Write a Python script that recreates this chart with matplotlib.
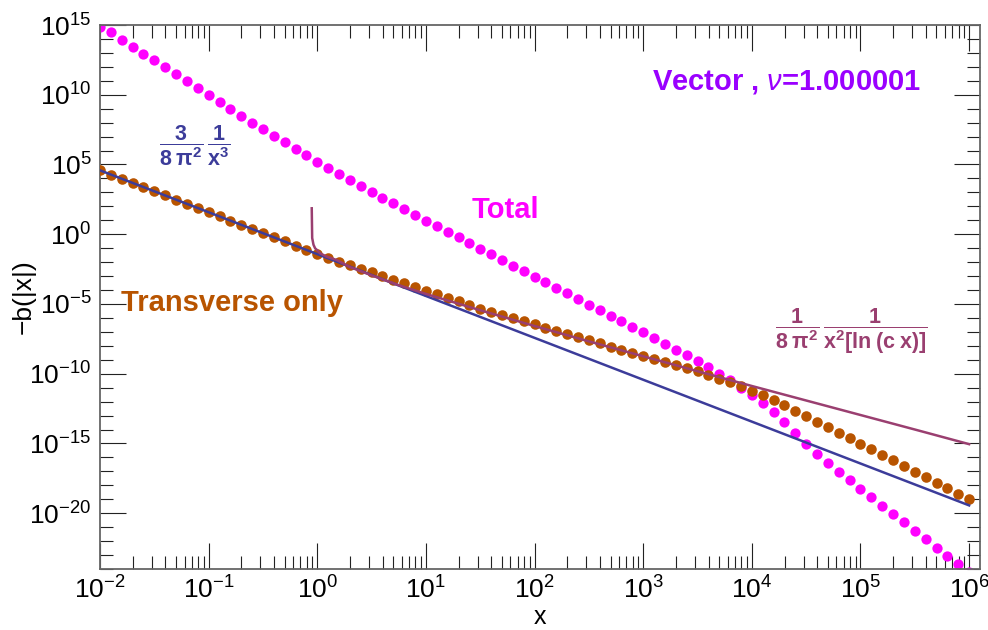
import numpy as np
import matplotlib
matplotlib.use("Agg")
import matplotlib.pyplot as plt
from matplotlib.ticker import FixedLocator, LogLocator, NullFormatter, LogFormatterSciNotation

plt.rcParams['font.family'] = ['Liberation Sans', 'DejaVu Sans']
plt.rcParams['mathtext.fontset'] = 'custom'
plt.rcParams['mathtext.rm'] = 'Liberation Sans'
plt.rcParams['mathtext.bf'] = 'Liberation Sans:bold'
plt.rcParams['mathtext.it'] = 'Liberation Sans:italic'
plt.rcParams['mathtext.sf'] = 'Liberation Sans'
plt.rcParams['mathtext.default'] = 'regular'

# ---- data (log10 values) ----
dot_x_log10 = [-2.0, -1.9, -1.8, -1.7, -1.6, -1.5, -1.4, -1.3, -1.2, -1.1,
               -1.0, -0.9, -0.8, -0.7, -0.6, -0.5, -0.4, -0.3, -0.2, -0.1,
               0.0, 0.1, 0.2, 0.3, 0.4, 0.5, 0.6, 0.7, 0.8, 0.9,
               1.0, 1.1, 1.2, 1.3, 1.4, 1.5, 1.6, 1.7, 1.8, 1.9,
               2.0, 2.1, 2.2, 2.3, 2.4, 2.5, 2.6, 2.7, 2.8, 2.9,
               3.0, 3.1, 3.2, 3.3, 3.4, 3.5, 3.6, 3.7, 3.8, 3.9,
               4.0, 4.1, 4.2, 4.3, 4.4, 4.5, 4.6, 4.7, 4.8, 4.9,
               5.0, 5.1, 5.2, 5.3, 5.4, 5.5, 5.6, 5.7, 5.8, 5.9,
               6.0]

total_log10 = [14.88, 14.48, 13.92, 13.44, 12.94, 12.47, 11.97, 11.47, 10.96, 10.46,
               9.98, 9.48, 8.98, 8.50, 8.00, 7.54, 7.06, 6.59, 6.13, 5.66,
               5.20, 4.77, 4.32, 3.89, 3.46, 3.03, 2.62, 2.22, 1.81, 1.38,
               0.97, 0.57, 0.16, -0.22, -0.63, -1.04, -1.44, -1.85, -2.25, -2.63,
               -3.04, -3.44, -3.83, -4.23, -4.64, -5.05, -5.43, -5.84, -6.22, -6.65,
               -7.03, -7.44, -7.87, -8.28, -8.68, -9.09, -9.52, -10.0, -10.47, -11.0,
               -11.52, -12.12, -12.76, -13.48, -14.25, -15.04, -15.75, -16.42, -17.02, -17.64,
               -18.24, -18.84, -19.46, -20.05, -20.65, -21.25, -21.87, -22.47, -23.04, -23.64,
               -24.2]

transverse_log10 = [4.58, 4.28, 3.98, 3.68, 3.38, 3.08, 2.78, 2.48, 2.18, 1.88,
                    1.58, 1.28, 0.98, 0.68, 0.38, 0.08, -0.22, -0.52, -0.82, -1.12,
                    -1.42, -1.71, -1.97, -2.22, -2.47, -2.73, -3.00, -3.27, -3.53, -3.79,
                    -4.04, -4.30, -4.55, -4.81, -5.07, -5.34, -5.56, -5.77, -5.99, -6.20,
                    -6.45, -6.72, -6.94, -7.15, -7.39, -7.60, -7.82, -8.06, -8.28, -8.49,
                    -8.73, -8.94, -9.16, -9.37, -9.59, -9.82, -10.07, -10.36, -10.59, -10.90,
                    -11.24, -11.52, -11.88, -12.24, -12.65, -13.03, -13.44, -13.84, -14.23, -14.63,
                    -15.04, -15.42, -15.82, -16.20, -16.63, -17.02, -17.42, -17.83, -18.21, -18.62,
                    -19.0]

blue_x_log10 = [-2.0, 6.0]
blue_log10 = [4.58, -19.44]

purple_x_log10 = [-0.051, -0.047, -0.035, -0.020, 0.0, 0.026, 0.088, 0.179, 0.3, 0.5,
                  0.75, 1.0, 1.5, 2.0, 2.5, 3.0, 3.5, 4.0, 4.5, 5.0, 5.5, 6.0]
purple_log10 = [1.86, -0.27, -0.75, -1.01, -1.15, -1.37, -1.61, -1.85, -2.35, -2.95,
                -3.65, -4.28, -5.45, -6.58, -7.68, -8.75, -9.82, -10.88, -11.92, -12.96, -14.0, -15.05]

x_major_exp = [-2, -1, 0, 1, 2, 3, 4, 5, 6]
y_major_exp = [-20, -15, -10, -5, 0, 5, 10, 15]

# ---- colours ----
C_TOTAL = '#FF00FF'
C_TRANS = '#B85400'
C_BLUE = '#3C3C9A'
C_PURPLE = '#9A3F70'
C_TITLE = '#9A00FF'

W, H = 988, 630
fig = plt.figure(figsize=(W / 100, H / 100), dpi=100)
ax = fig.add_axes([100 / W, 1 - 569 / H, 880 / W, 544 / H])

def p10(v):
    return np.power(10.0, np.asarray(v, dtype=float))

ax.plot(p10(dot_x_log10), p10(total_log10), 'o', color=C_TOTAL, ms=7.4, mec='none', zorder=2)
ax.plot(p10(dot_x_log10), p10(transverse_log10), 'o', color=C_TRANS, ms=7.6, mec='none', zorder=3)
ax.plot(p10(blue_x_log10), p10(blue_log10), '-', color=C_BLUE, lw=1.8, zorder=4)
ax.plot(p10(purple_x_log10), p10(purple_log10), '-', color=C_PURPLE, lw=1.8, zorder=5)

ax.set_xscale('log')
ax.set_yscale('log')
ax.set_xlim(1e-2, 10 ** 6.1)
ax.set_ylim(1e-24, 1e15)

ax.xaxis.set_major_locator(FixedLocator(list(p10(x_major_exp))))
ax.xaxis.set_minor_locator(LogLocator(base=10, subs=np.arange(2, 10), numticks=200))
ax.yaxis.set_major_locator(FixedLocator(list(p10(y_major_exp))))
ax.yaxis.set_minor_locator(LogLocator(base=10, subs=(1.0,), numticks=200))
ax.xaxis.set_major_formatter(LogFormatterSciNotation())
ax.yaxis.set_major_formatter(LogFormatterSciNotation())
ax.xaxis.set_minor_formatter(NullFormatter())
ax.yaxis.set_minor_formatter(NullFormatter())

ax.tick_params(which='both', direction='in', top=True, right=True, color='#222222', width=0.8)
ax.tick_params(which='major', length=18.7, labelsize=19)
ax.tick_params(which='minor', length=9.4)
ax.tick_params(axis='x', which='major', pad=5)
ax.tick_params(axis='y', which='major', pad=6)
for s in ax.spines.values():
    s.set_color('#666666')
    s.set_linewidth(1.3)

ax.set_xlabel('x', fontsize=18)
ax.xaxis.label.set_va('center')
ax.xaxis.set_label_coords(0.5, -(617 - 569) / 544)
ax.set_ylabel('\u2212b(|x|)', fontsize=19)
ax.yaxis.label.set_va('center')
ax.yaxis.set_label_coords(-(100 - 24) / 880, 0.5)

def ftext(px, py, s, **kw):
    fig.text(px / W, 1 - py / H, s, ha='center', va='center', **kw)

ftext(787, 82, 'Vector , $\\mathit{\\nu}$=1.000001', fontsize=21, fontweight='bold', color=C_TITLE)
ftext(505, 210, 'Total', fontsize=21, fontweight='bold', color=C_TOTAL)
ftext(232, 303, 'Transverse only', fontsize=21, fontweight='bold', color=C_TRANS)
ftext(195, 146, r'$\mathbf{\dfrac{3}{8\;\pi^{2}}\,\dfrac{1}{x^{3}}}$', fontsize=15.5, color=C_BLUE)
ftext(851, 331, r'$\mathbf{\dfrac{1}{8\;\pi^{2}}\,\dfrac{1}{x^{2}[ln\;(c\;x)]}}$', fontsize=15.5, color=C_PURPLE)

fig.savefig('out.png', dpi=100)
